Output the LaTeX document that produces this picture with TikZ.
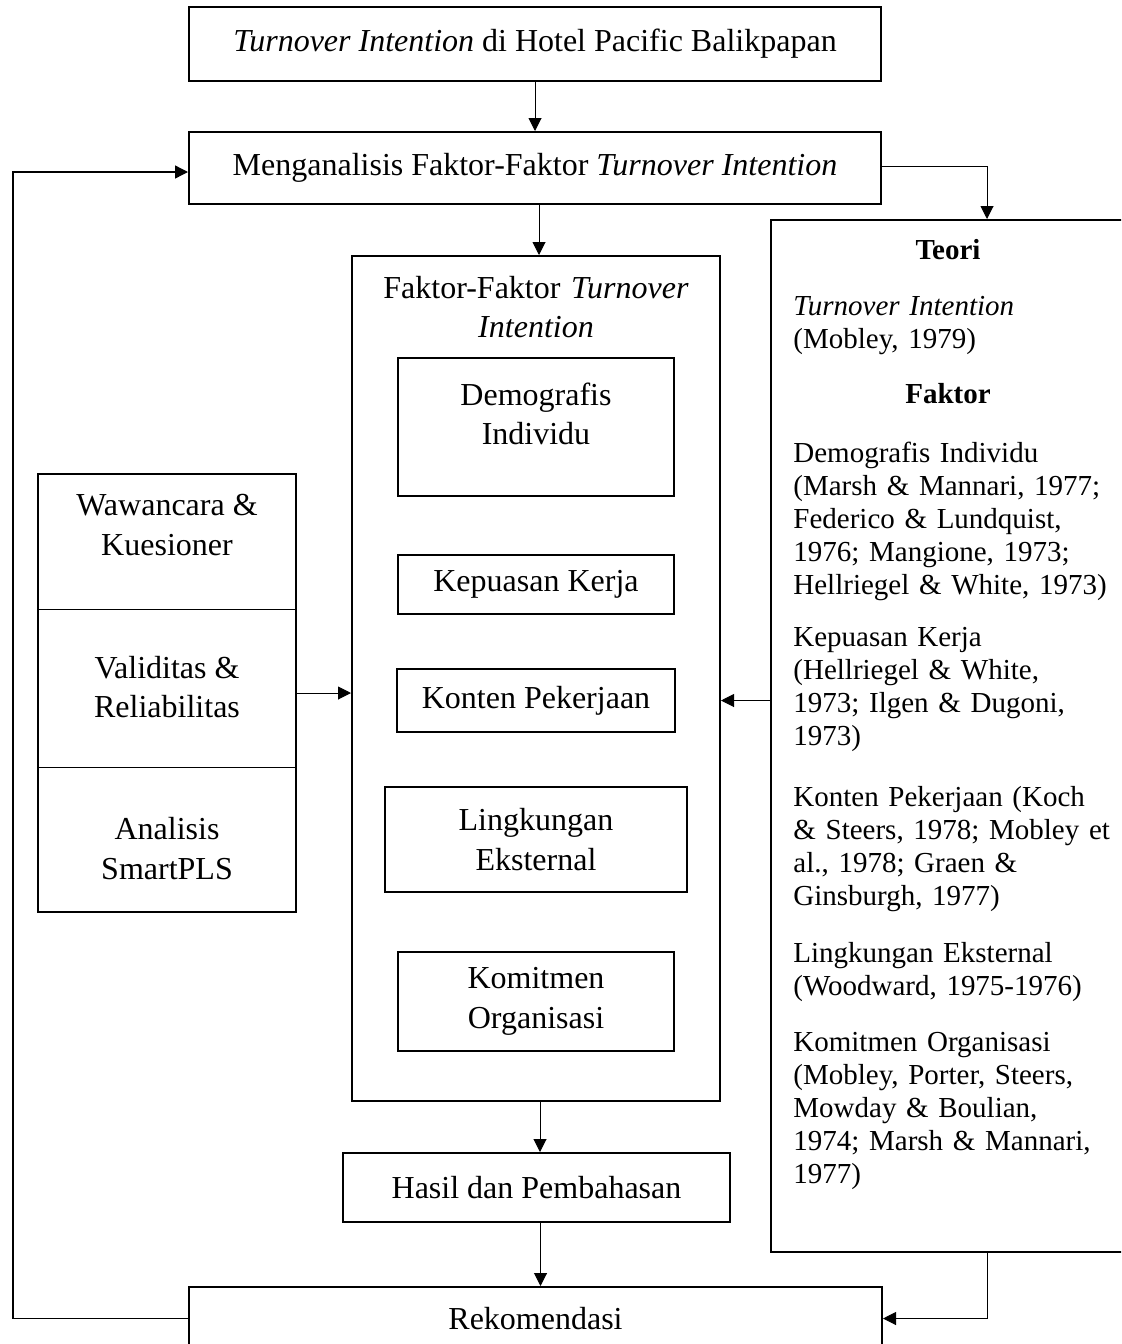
\documentclass[tikz,border=0pt]{standalone}
\usepackage{fontspec}
\setmainfont{Liberation Serif}
\usetikzlibrary{arrows.meta}
\tikzset{kotak/.style={draw, line width=1pt, inner sep=0pt, align=center, font=\fontsize{16}{19.75}\selectfont}}
\tikzset{teks/.style={inner sep=0pt, font=\fontsize{14.5}{16.5}\selectfont, text width=180pt, align=left, anchor=base west}}
\tikzset{panah/.style={-{Triangle[length=6.5pt,width=6.5pt]}, line width=0.5pt}}

\begin{document}
\begin{tikzpicture}[x=0.5pt,y=-0.5pt]

    \clip (0,0) rectangle (1121,1344);

    \coordinate (J) at (535, 44);
    \coordinate (A) at (535, 168);
    \coordinate (F) at (536, 678.5);
    \coordinate (H) at (536.5, 1187.5);
    \coordinate (R) at (535.5, 1318.5);
    \coordinate (T) at (953, 736);
    \coordinate (M) at (167, 693);

    \coordinate (F0) at (536, 298);
    \coordinate (F1) at (536, 427);
    \coordinate (F2) at (536, 584.5);
    \coordinate (F3) at (536, 700.5);
    \coordinate (F4) at (536, 839.5);
    \coordinate (F5) at (536, 1001.5);

    \coordinate (M1) at (167, 525);
    \coordinate (M2) at (167, 687);
    \coordinate (M3) at (167, 848.5);
    \coordinate (S1) at (38, 609);
    \coordinate (S2) at (296, 609);
    \coordinate (S3) at (38, 767);
    \coordinate (S4) at (296, 767);

    \coordinate (kiri) at (13, 0);
    \coordinate (kanan) at (987, 0);

%kotak utama
    \node[kotak, minimum width=346pt, minimum height=37pt] (judul) at (J) {\textit{Turnover Intention} di Hotel Pacific Balikpapan};
    \node[kotak, minimum width=346pt, minimum height=36pt] (analisis) at (A) {Menganalisis Faktor-Faktor \textit{Turnover Intention}};
    \node[kotak, minimum width=184pt, minimum height=422.5pt] (faktor) at (F) {};
    \node[kotak, minimum width=193.5pt, minimum height=34.5pt] (hasil) at (H) {Hasil dan Pembahasan};
    \node[kotak, minimum width=346.5pt, minimum height=31.5pt] (rekomendasi) at (R) {Rekomendasi};
    \node[kotak, minimum width=182pt, minimum height=516pt] (teori) at (T) {};
    \node[kotak, minimum width=129pt, minimum height=219pt] (metode) at (M) {};

%isi faktor
    \node[kotak, draw=none, text width=170pt, anchor=base] (faktorJudul) at (F0) {Faktor-Faktor \textit{Turnover}\\\textit{Intention}};
    \node[kotak, minimum width=138pt, minimum height=69pt] (demografis) at (F1) {\raisebox{0pt}[\height][\dimexpr\depth+10pt]{\begin{tabular}{@{}c@{}}Demografis\\Individu\end{tabular}}};
    \node[kotak, minimum width=138pt, minimum height=29.5pt] (kepuasan) at (F2) {Kepuasan Kerja};
    \node[kotak, minimum width=139pt, minimum height=31.5pt] (konten) at (F3) {Konten Pekerjaan};
    \node[kotak, minimum width=151pt, minimum height=52.5pt] (lingkungan) at (F4) {Lingkungan\\Eksternal};
    \node[kotak, minimum width=138pt, minimum height=49.5pt] (komitmen) at (F5) {Komitmen\\Organisasi};

%isi metode
    \draw[line width=0.5pt] (S1) -- (S2);
    \draw[line width=0.5pt] (S3) -- (S4);
    \node[kotak, draw=none] (wawancara) at (M1) {Wawancara \&\\Kuesioner};
    \node[kotak, draw=none] (validitas) at (M2) {Validitas \&\\Reliabilitas};
    \node[kotak, draw=none] (smartpls) at (M3) {Analisis\\SmartPLS};

%isi teori
    \node[teks, anchor=base, text width=, font=\fontsize{14.5}{16.5}\selectfont\bfseries] (teoriJudul) at (948, 259) {Teori};
    \node[teks] (tiTeori) at (793, 315) {\textit{Turnover Intention}\\(Mobley, 1979)};
    \node[teks, anchor=base, text width=, font=\fontsize{14.5}{16.5}\selectfont\bfseries] (faktorTeori) at (948, 403) {Faktor};
    \node[teks] (fDemografis) at (793, 462) {Demografis Individu\\(Marsh \& Mannari, 1977;\\Federico \& Lundquist,\\1976; Mangione, 1973;\\Hellriegel \& White, 1973)};
    \node[teks] (fKepuasan) at (793, 646) {Kepuasan Kerja\\(Hellriegel \& White,\\1973; Ilgen \& Dugoni,\\1973)};
    \node[teks] (fKonten) at (793, 806) {Konten Pekerjaan (Koch\\\& Steers, 1978; Mobley et\\al., 1978; Graen \&\\Ginsburgh, 1977)};
    \node[teks] (fLingkungan) at (793, 962) {Lingkungan Eksternal\\(Woodward, 1975-1976)};
    \node[teks] (fKomitmen) at (793, 1051) {Komitmen Organisasi\\(Mobley, Porter, Steers,\\Mowday \& Boulian,\\1974; Marsh \& Mannari,\\1977)};

%panah
    \draw[panah] (judul.south) -- (analisis.north);
    \draw[panah] ([xshift=2pt]analisis.south) -- ([xshift=2pt]analisis.south |- faktor.north);
    \draw[panah] ([xshift=2pt]faktor.south) -- ([xshift=2pt]faktor.south |- hasil.north);
    \draw[panah] ([xshift=2pt]hasil.south) -- ([xshift=2pt]hasil.south |- rekomendasi.north);
    \draw[panah] (metode.east) -- (metode.east -| faktor.west);
    \draw[panah] (teori.west |- konten) -- (faktor.east |- konten);
    \draw[panah] ([yshift=1pt]analisis.east) -| (kanan |- teori.north);
    \draw[panah] (kanan |- teori.south) |- (rekomendasi.east);
    \draw[panah, line width=0.7pt] (rekomendasi.west) -| ([yshift=-2pt]kiri |- analisis.west) -- ([yshift=-2pt]analisis.west);

\end{tikzpicture}
\end{document}
